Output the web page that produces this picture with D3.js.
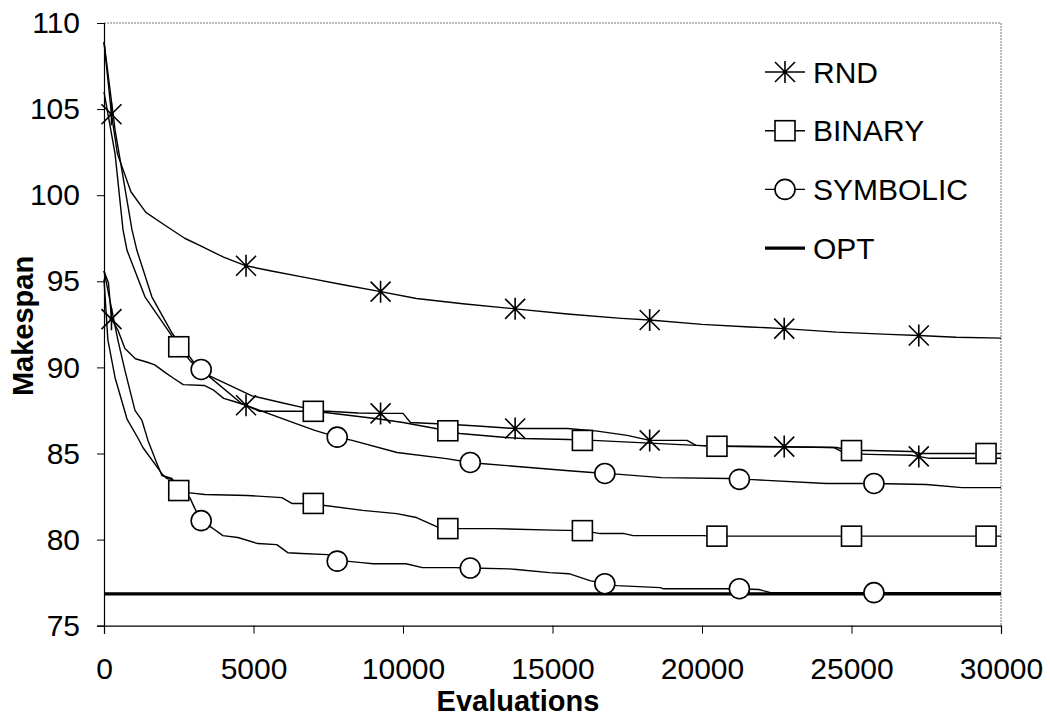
<!DOCTYPE html>
<html>
<head>
<meta charset="utf-8">
<script src="https://cdn.jsdelivr.net/npm/d3@7"></script>
<style>
  html, body { margin: 0; padding: 0; background: #fff; }
  svg { display: block; }
  text { font-family: "Liberation Sans", Arial, Helvetica, sans-serif; fill: #000; }
</style>
</head>
<body>
<svg id="chart" width="1050" height="721"></svg>
<script>
// Best makespan found vs. number of evaluations, two problem instances
// (upper group and lower group), three encodings each, plus the optimum.

const xTicks = [0, 5000, 10000, 15000, 20000, 25000, 30000];
const yTicks = [75, 80, 85, 90, 95, 100, 105, 110];

const legendLabels = ["RND", "BINARY", "SYMBOLIC", "OPT"];

// [evaluations, makespan]
const rndA = [[0,108.9],[250,104.7],[450,102.4],[900,100.2],[1400,99.0],[2000,98.3],[2700,97.5],[3300,97.0],[4000,96.4],[4750,95.9],[5600,95.6],[6800,95.2],[8000,94.8],[9250,94.4],[10450,94.0],[12000,93.7],[13750,93.4],[15500,93.1],[17300,92.85],[18250,92.75],[20000,92.5],[21600,92.35],[22750,92.25],[24500,92.05],[26250,91.92],[27250,91.85],[28500,91.75],[30000,91.7]];
const rndB = [[0,95.6],[150,94.9],[250,92.8],[470,92.15],[700,91.1],[1050,90.5],[1450,90.3],[1700,90.15],[2050,89.7],[2300,89.4],[2650,89.0],[3350,88.95],[3650,88.7],[4000,88.2],[4300,88.05],[4750,87.8],[5200,87.45],[6000,87.45],[7500,87.45],[8500,87.35],[9250,87.33],[10000,87.33],[10250,86.8],[11500,86.7],[12500,86.6],[13750,86.45],[15500,86.45],[16500,86.3],[17500,86.05],[18250,85.76],[19500,85.76],[19800,85.47],[21000,85.42],[22750,85.4],[24400,85.35],[24800,85.0],[25600,84.95],[27000,84.9],[27250,84.83],[27600,84.72],[30000,84.72]];
const binA = [[0,106.0],[370,102.4],[635,98.0],[770,96.8],[1370,94.1],[2200,92.0],[2500,91.2],[2900,90.35],[3300,89.7],[4950,88.35],[5950,87.95],[6700,87.65],[7000,87.45],[7550,87.35],[9200,87.0],[10000,86.8],[11500,86.32],[11900,86.16],[13450,85.93],[14000,85.87],[15550,85.81],[16000,85.76],[16350,85.76],[19800,85.47],[20500,85.42],[24500,85.35],[25000,85.17],[25600,85.17],[27000,85.12],[27300,85.0],[29500,85.0],[30000,85.0]];
const binB = [[0,95.1],[130,91.6],[370,89.4],[770,87.0],[1135,85.9],[1300,85.35],[1950,83.8],[2100,83.55],[2270,83.5],[2500,82.85],[2800,82.73],[3370,82.62],[4800,82.56],[5950,82.44],[6280,82.1],[7000,82.1],[7400,81.98],[8650,81.7],[9790,81.51],[10450,81.28],[11200,80.7],[11500,80.64],[13000,80.64],[15000,80.55],[16000,80.52],[16600,80.35],[17400,80.35],[17700,80.23],[20000,80.23],[20500,80.2],[25000,80.2],[29500,80.2],[30000,80.2]];
const symA = [[0,108.9],[370,103.8],[935,98.0],[1100,96.8],[1600,94.1],[2270,92.0],[2700,91.0],[3000,90.3],[3250,89.88],[3550,89.42],[4600,87.9],[6400,86.75],[7050,86.34],[7800,85.95],[8300,85.76],[9800,85.06],[11450,84.7],[12250,84.48],[12600,84.42],[15550,84.0],[16750,83.84],[17150,83.8],[18650,83.6],[20900,83.55],[21250,83.5],[21700,83.48],[24150,83.26],[25750,83.26],[27500,83.2],[28700,83.02],[30000,83.02]];
const symB = [[0,95.6],[467,91.57],[700,89.83],[1036,87.5],[1270,86.92],[1470,85.76],[1770,84.42],[1937,83.72],[2271,83.55],[2500,82.85],[2870,82.44],[3040,81.8],[3250,81.1],[3600,80.7],[3975,80.23],[4476,80.12],[5144,79.77],[5778,79.71],[6146,79.24],[6613,79.19],[7481,79.13],[7800,78.75],[8100,78.75],[8620,78.66],[9000,78.6],[10100,78.6],[10650,78.37],[11700,78.37],[12250,78.35],[13550,78.3],[13800,78.26],[14900,78.08],[15550,78.02],[16250,77.62],[16750,77.44],[17150,77.33],[18600,77.21],[18700,77.15],[21250,77.15],[21900,77.1],[22300,76.92],[25750,76.92],[30000,76.92]];
const optLine = [[0,76.85],[30000,76.85]];

// evaluations at which each encoding shows its marker
const rndMarks = [250, 4750, 9250, 13750, 18250, 22750, 27250];
const binMarks = [2500, 7000, 11500, 16000, 20500, 25000, 29500];
const symMarks = [3250, 7800, 12250, 16750, 21250, 25750];

const svg = d3.select("#chart");

const x = d3.scaleLinear().domain([0, 30000]).range([104, 1001]);
const y = d3.scaleLinear().domain([75, 110]).range([625.7, 23]);

// plot frame: dotted top/right edges
svg.append("line").attr("x1", x(0)).attr("x2", x(30000)).attr("y1", y(110)).attr("y2", y(110))
  .attr("stroke", "#777").attr("stroke-width", 1).attr("stroke-dasharray", "2,1");
svg.append("line").attr("x1", x(30000)).attr("x2", x(30000)).attr("y1", y(110)).attr("y2", y(75))
  .attr("stroke", "#777").attr("stroke-width", 1).attr("stroke-dasharray", "2,1");

// axes
const yAxis = d3.axisLeft(y).tickValues(yTicks).tickSize(7).tickPadding(6).tickFormat(d3.format("d"));
const xAxis = d3.axisBottom(x).tickValues(xTicks).tickSize(8).tickPadding(24).tickFormat(d3.format("d"));

const gy = svg.append("g").attr("transform", `translate(${x(0)},0)`).call(yAxis);
const gx = svg.append("g").attr("transform", `translate(0,${y(75)})`).call(xAxis);
[gx, gy].forEach(g => {
  g.select(".domain").attr("stroke", "#000").attr("stroke-width", 1.2);
  g.selectAll(".tick line").attr("stroke", "#000").attr("stroke-width", 1);
  g.selectAll(".tick text").style("font-size", "30px")
    .style("font-family", '"Liberation Sans", Arial, sans-serif').attr("fill", "#000");
});
gy.selectAll(".tick text").attr("x", -24);

// axis titles
svg.append("text").attr("x", 518).attr("y", 711).attr("text-anchor", "middle")
  .style("font-size", "29px").style("font-weight", "bold").text("Evaluations");
svg.append("text").attr("transform", "translate(33,326) rotate(-90)").attr("text-anchor", "middle")
  .style("font-size", "29px").style("font-weight", "bold").text("Makespan");

const line = d3.line().x(d => x(d[0])).y(d => y(d[1]));

// optimum
svg.append("path").datum(optLine).attr("d", line)
  .attr("fill", "none").attr("stroke", "#000").attr("stroke-width", 3.2);

const series = [
  { data: rndA, marks: rndMarks, shape: "star" },
  { data: rndB, marks: rndMarks, shape: "star" },
  { data: binA, marks: binMarks, shape: "square" },
  { data: binB, marks: binMarks, shape: "square" },
  { data: symA, marks: symMarks, shape: "circle" },
  { data: symB, marks: symMarks, shape: "circle" }
];

function drawMarker(g, shape, cx, cy) {
  if (shape === "star") {
    const s = 10;
    const p = `M${cx - s},${cy - s}L${cx + s},${cy + s}M${cx - s},${cy + s}L${cx + s},${cy - s}M${cx},${cy - s - 1}L${cx},${cy + s + 1}`;
    g.append("path").attr("d", p).attr("stroke", "#000").attr("stroke-width", 1.6).attr("fill", "none");
    g.append("circle").attr("cx", cx).attr("cy", cy).attr("r", 2).attr("fill", "#000");
  } else if (shape === "square") {
    g.append("rect").attr("x", cx - 10).attr("y", cy - 10).attr("width", 20).attr("height", 20)
      .attr("fill", "#fff").attr("stroke", "#000").attr("stroke-width", 1.6);
  } else {
    g.append("circle").attr("cx", cx).attr("cy", cy).attr("r", 10)
      .attr("fill", "#fff").attr("stroke", "#000").attr("stroke-width", 1.6);
  }
}

const lineLayer = svg.append("g");
const markLayer = svg.append("g");
series.forEach(s => {
  lineLayer.append("path").datum(s.data).attr("d", line)
    .attr("fill", "none").attr("stroke", "#000").attr("stroke-width", 1.4).attr("stroke-linejoin", "round");
  s.data.filter(d => s.marks.includes(d[0]))
    .forEach(d => drawMarker(markLayer, s.shape, x(d[0]), y(d[1])));
});

// legend
const legendShapes = ["star", "square", "circle", "thick"];
const leg = svg.append("g");
legendLabels.forEach((lab, i) => {
  const cy = 72 + i * 58.7;
  const shape = legendShapes[i];
  leg.append("line").attr("x1", 765).attr("x2", 805).attr("y1", cy).attr("y2", cy)
    .attr("stroke", "#000").attr("stroke-width", shape === "thick" ? 3.2 : 1.4);
  if (shape !== "thick") drawMarker(leg, shape, 785, cy);
  leg.append("text").attr("x", 813).attr("y", cy + 10.5).style("font-size", "30px").text(lab);
});
</script>
</body>
</html>
